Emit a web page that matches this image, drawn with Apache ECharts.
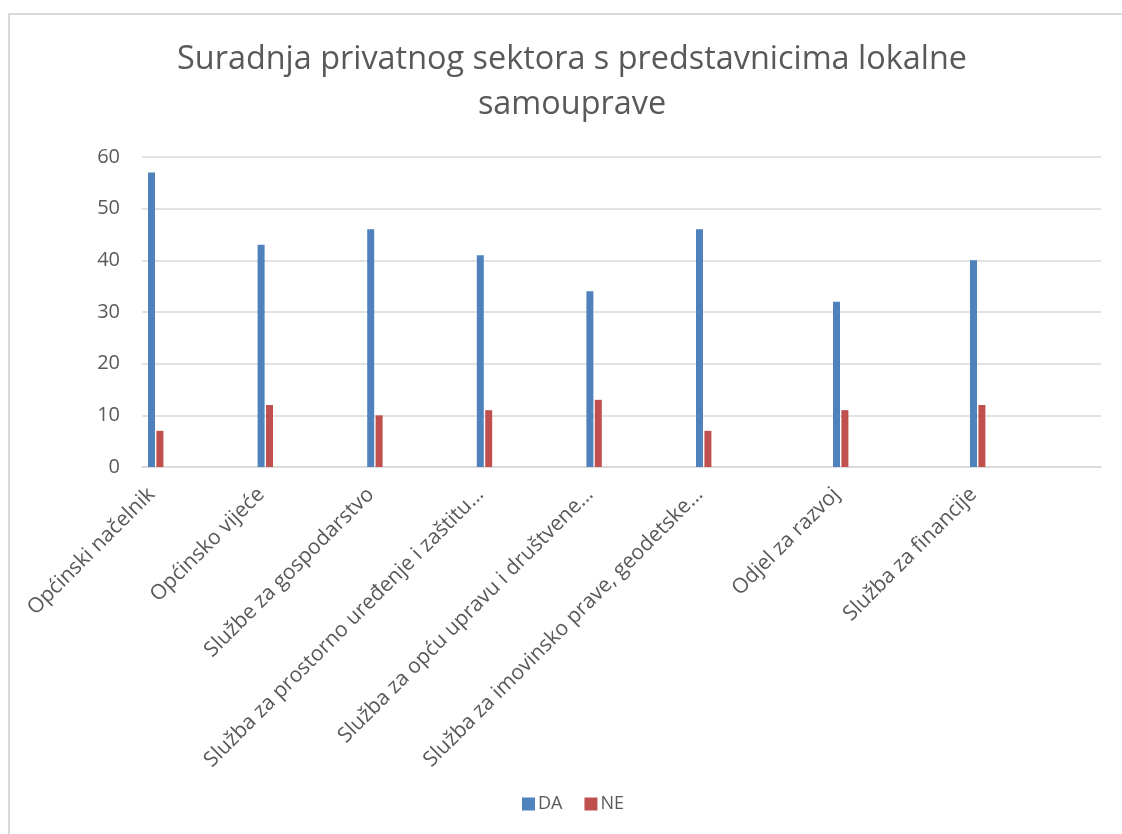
<!DOCTYPE html>
<html>
<head>
<meta charset="utf-8">
<title>Suradnja privatnog sektora</title>
<script src="https://cdn.jsdelivr.net/npm/echarts@6/dist/echarts.min.js"></script>
<style>
    html, body { margin: 0; padding: 0; background: #fff; }
    #chart { width: 1122px; height: 834px; }
</style>
</head>
<body>
<div id="chart"></div>
<script>
const categories = [
    'Općinski načelnik',
    'Općinsko vijeće',
    'Službe za gospodarstvo',
    'Služba za prostorno uređenje i zaštitu…',
    'Služba za opću upravu i društvene…',
    'Služba za imovinsko prave, geodetske…',
    'Odjel za razvoj',
    'Služba za financije',
]
const daValues = [57, 43, 46, 41, 34, 46, 32, 40]
const neValues = [7, 12, 10, 11, 13, 7, 11, 12]
const yTicks = [0, 10, 20, 30, 40, 50, 60]

// the original spaces its categories unevenly, so they sit on a finer slot grid
const slotIndex = [0, 4, 8, 12, 16, 20, 25, 30]
const slotCount = 35

const slotNames = []
const daSlots = []
const neSlots = []
for (let i = 0; i < slotCount; i++) {
    const k = slotIndex.indexOf(i)
    slotNames.push(k >= 0 ? categories[k] : 'slot' + i)
    daSlots.push(k >= 0 ? daValues[k] : '-')
    neSlots.push(k >= 0 ? neValues[k] : '-')
}

const textColor = '#595959'
const font = '"Open Sans", "Noto Sans", sans-serif'

const chart = echarts.init(document.getElementById('chart'))

chart.setOption({
    animation: false,
    title: {
        text: 'Suradnja privatnog sektora s predstavnicima lokalne\nsamouprave',
        left: 572,
        top: 37,
        padding: 0,
        textAlign: 'center',
        textStyle: {
            color: textColor,
            fontFamily: font,
            fontSize: 32.4,
            fontWeight: 'normal',
            lineHeight: 45,
        },
    },
    legend: {
        data: ['DA', 'NE'],
        left: 522,
        top: 795,
        padding: 0,
        itemWidth: 13,
        itemHeight: 13,
        itemGap: 22,
        icon: 'rect',
        textStyle: {
            color: textColor,
            fontFamily: font,
            fontSize: 18,
            padding: [0, 0, 0, -2],
        },
    },
    grid: {
        left: 142,
        right: 21,
        top: 157,
        bottom: 367,
        containLabel: false,
    },
    xAxis: {
        type: 'category',
        data: slotNames,
        axisLine: {
            lineStyle: { color: '#d9d9d9', width: 1.5 },
        },
        axisTick: { show: false },
        axisLabel: {
            rotate: 45,
            margin: 20,
            padding: [0, 6, 0, 0],
            interval: (i) => slotIndex.includes(i),
            color: textColor,
            fontFamily: font,
            fontSize: 21,
        },
    },
    yAxis: {
        type: 'value',
        min: yTicks[0],
        max: yTicks[yTicks.length - 1],
        interval: 10,
        axisLine: { show: false },
        axisTick: { show: false },
        axisLabel: {
            margin: 22,
            color: textColor,
            fontFamily: font,
            fontSize: 20,
        },
        splitLine: {
            lineStyle: { color: '#d9d9d9', width: 1.5 },
        },
    },
    series: [
        {
            name: 'DA',
            type: 'bar',
            data: daSlots,
            barWidth: 7,
            barGap: '20%',
            itemStyle: { color: '#4f81bd' },
        },
        {
            name: 'NE',
            type: 'bar',
            data: neSlots,
            barWidth: 7,
            barGap: '20%',
            itemStyle: { color: '#c0504d' },
        },
    ],
    graphic: [
        {
            type: 'polyline',
            shape: { points: [[9, 834], [9, 14], [1122, 14]] },
            style: { stroke: '#d9d9d9', lineWidth: 2, fill: null },
            silent: true,
        },
    ],
})

window.addEventListener('resize', () => chart.resize())
</script>
</body>
</html>
